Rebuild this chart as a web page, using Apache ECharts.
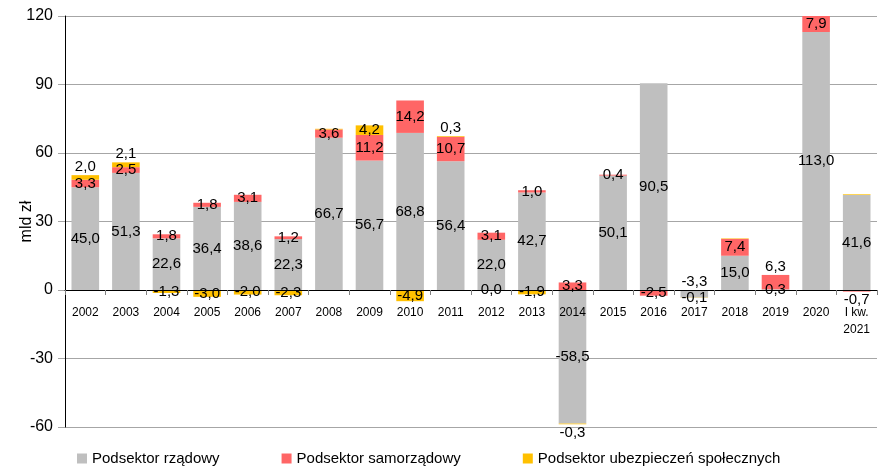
<!DOCTYPE html>
<html>
<head>
<meta charset="utf-8">
<script src="https://cdn.jsdelivr.net/npm/echarts@6/dist/echarts.min.js"></script>
<style>
  html, body { margin: 0; padding: 0; background: #fff; }
  #main { width: 893px; height: 468px; }
</style>
</head>
<body>
<div id="main"></div>
<script>
// kategorie (lata)
var categories = ['2002', '2003', '2004', '2005', '2006', '2007', '2008', '2009', '2010', '2011',
  '2012', '2013', '2014', '2015', '2016', '2017', '2018', '2019', '2020', 'I kw.\n2021'];

// mld zł
var rzadowy = [45.0, 51.3, 22.6, 36.4, 38.6, 22.3, 66.7, 56.7, 68.8, 56.4,
  22.0, 42.7, -58.5, 50.1, 90.5, -3.3, 15.0, 0.3, 113.0, 41.6];
var samorzadowy = [3.3, 2.5, 1.8, 1.8, 3.1, 1.2, 3.6, 11.2, 14.2, 10.7,
  3.1, 1.0, 3.3, 0.4, -2.5, 0, 7.4, 6.3, 7.9, -0.7];
var ubezpieczen = [2.0, 2.1, -1.3, -3.0, -2.0, -2.3, 0.3, 4.2, -4.9, 0.3,
  0.0, -1.9, -0.3, -0.2, 0, -0.1, 0.2, 0, -0.3, 0.3];

var yTicks = [-60, -30, 0, 30, 60, 90, 120];

// etykiety: gdzie pokazać inaczej niż w środku / gdzie ukryć
var labelPos = {
  rz: { 15: 'top' },
  sam: { 17: 'top', 19: 'bottom' },
  ubez: { 0: 'top', 1: 'top', 9: 'top', 12: 'bottom' }
};
var labelHide = {
  rz: [],
  sam: [15],
  ubez: [6, 13, 14, 16, 17, 18, 19]
};
// zerowe wartości -> etykieta przy osi (jak w Excelu)
var zeroAtAxis = [10];

function fmt(v) {
  return v.toFixed(1).replace('.', ',');
}

function buildData(values, key) {
  return values.map(function(v, i) {
    var item = { value: v };
    var lbl = {};
    if (labelHide[key].indexOf(i) >= 0) lbl.show = false;
    if (labelPos[key][i]) lbl.position = labelPos[key][i];
    item.label = lbl;
    return item;
  });
}

var myChart = echarts.init(document.getElementById('main'));

var gridTop = 16, gridBottom = 41, chartH = 468;
var plotH = chartH - gridTop - gridBottom;
// os X na wysokości zera
var zeroOffset = -plotH * (0 - yTicks[0]) / (yTicks[yTicks.length - 1] - yTicks[0]);

var baseLabel = {
  show: true,
  position: 'inside',
  distance: 1,
  color: '#000',
  fontSize: 15,
  fontFamily: 'Liberation Sans',
  formatter: function(p) { return fmt(p.value); }
};

var ubezData = buildData(ubezpieczen, 'ubez');

var option = {
  animation: false,
  textStyle: { fontFamily: 'Liberation Sans' },
  grid: { left: 65, right: 16, top: gridTop, bottom: gridBottom, containLabel: false, outerBoundsMode: 'none' },
  legend: {
    top: 446,
    left: 72,
    itemWidth: 10,
    itemHeight: 10,
    itemGap: 62,
    icon: 'rect',
    textStyle: { fontSize: 15, color: '#000' },
    data: ['Podsektor rządowy', 'Podsektor samorządowy', 'Podsektor ubezpieczeń społecznych']
  },
  xAxis: {
    type: 'category',
    data: categories,
    position: 'bottom',
    offset: zeroOffset,
    axisLine: { onZero: false, lineStyle: { color: '#000', width: 1 } },
    axisTick: { show: true, length: 5, lineStyle: { color: '#808080' } },
    axisLabel: { color: '#000', fontSize: 12, margin: 14, lineHeight: 17, interval: 0 },
    z: 10
  },
  yAxis: {
    type: 'value',
    min: yTicks[0],
    max: yTicks[yTicks.length - 1],
    interval: 30,
    name: 'mld zł',
    nameLocation: 'middle',
    nameGap: 30,
    nameMoveOverlap: false,
    nameTextStyle: { fontSize: 16, color: '#000' },
    axisLine: { show: true, lineStyle: { color: '#000' } },
    axisTick: { show: true, length: 7, lineStyle: { color: '#a6a6a6' } },
    axisLabel: { color: '#000', fontSize: 16, margin: 12 },
    splitLine: { lineStyle: { color: '#a6a6a6', width: 1 } }
  },
  series: [{
    name: 'Podsektor rządowy',
    type: 'bar',
    stack: 'sektor',
    barWidth: '68%',
    itemStyle: { color: '#bfbfbf' },
    label: baseLabel,
    data: buildData(rzadowy, 'rz')
  }, {
    name: 'Podsektor samorządowy',
    type: 'bar',
    stack: 'sektor',
    itemStyle: { color: '#ff6666' },
    label: baseLabel,
    data: buildData(samorzadowy, 'sam')
  }, {
    name: 'Podsektor ubezpieczeń społecznych',
    type: 'bar',
    stack: 'sektor',
    itemStyle: { color: '#ffc000' },
    label: baseLabel,
    data: ubezData
  }]
};

myChart.setOption(option);

// przesunięcie etykiety 0,0 na oś
zeroAtAxis.forEach(function(i) {
  var top = rzadowy[i] + samorzadowy[i];
  var yTop = myChart.convertToPixel({ yAxisIndex: 0 }, top);
  var y0 = myChart.convertToPixel({ yAxisIndex: 0 }, 0);
  ubezData[i].label.offset = [0, y0 - yTop];
});
myChart.setOption({ series: [{}, {}, { data: ubezData }] });
</script>
</body>
</html>
